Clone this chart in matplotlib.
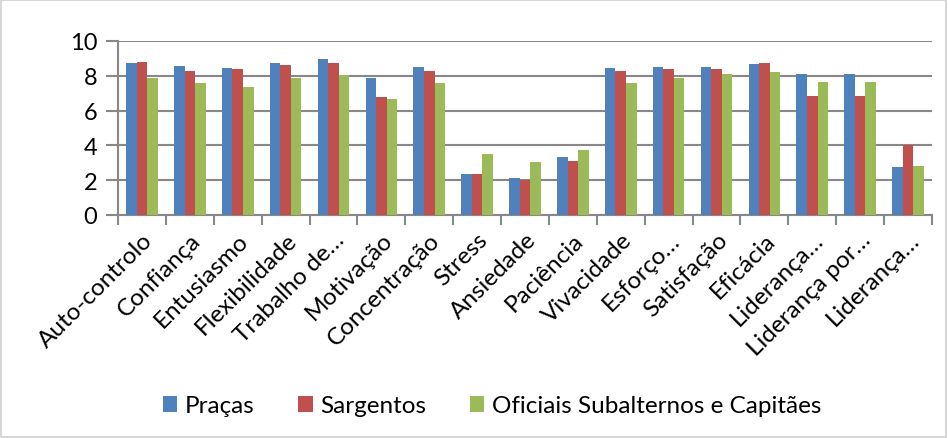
import matplotlib
matplotlib.use("Agg")
import matplotlib.pyplot as plt
import numpy as np
from matplotlib.patches import Rectangle

categories = ["Auto-controlo", "Confiança", "Entusiasmo", "Flexibilidade", "Trabalho de…",
              "Motivação", "Concentração", "Stress", "Ansiedade", "Paciência", "Vivacidade",
              "Esforço…", "Satisfação", "Eficácia", "Liderança…", "Liderança por…", "Liderança…"]
pracas = [8.71, 8.58, 8.42, 8.71, 8.96, 7.88, 8.50, 2.35, 2.15, 3.35, 8.42, 8.50, 8.50, 8.65, 8.12, 8.12, 2.73]
sargentos = [8.81, 8.29, 8.40, 8.63, 8.75, 6.81, 8.29, 2.35, 2.02, 3.12, 8.25, 8.40, 8.37, 8.75, 6.85, 6.85, 4.04]
oficiais = [7.88, 7.60, 7.37, 7.90, 8.06, 6.67, 7.60, 3.48, 3.04, 3.75, 7.56, 7.90, 8.12, 8.21, 7.67, 7.67, 2.79]
series_names = ["Praças", "Sargentos", "Oficiais Subalternos e Capitães"]
colors = ["#4F81BD", "#C0504D", "#9BBB59"]
yticks = [0, 2, 4, 6, 8, 10]

plt.rcParams['font.family'] = ['Lato', 'DejaVu Sans']
fig = plt.figure(figsize=(9.48, 4.39), dpi=100)
fig.patches.append(Rectangle((0.001, 0.002), 0.997, 0.995, transform=fig.transFigure,
                             fill=False, edgecolor="#D0D0D0", linewidth=1.2))
ax = fig.add_axes([118/948, 1-216/439, (932-118)/948, (216-42)/439])

x = np.arange(len(categories))
w = 0.22
for i, (vals, name, c) in enumerate(zip([pracas, sargentos, oficiais], series_names, colors)):
    ax.bar(x + (i-1)*w, vals, width=w, color=c, label=name, zorder=3)

ax.set_xlim(-0.5, len(categories)-0.5)
ax.set_ylim(0, 10)
ax.set_yticks(yticks)
ax.set_yticklabels([str(t) for t in yticks], fontsize=17)
ax.grid(axis='y', color="#888888", linewidth=1.5, zorder=0)
for s in ['top', 'right']:
    ax.spines[s].set_visible(False)
for s in ['left', 'bottom']:
    ax.spines[s].set_color("#888888")
    ax.spines[s].set_linewidth(1.5)
ax.tick_params(axis='y', length=9, width=1.5, color="#888888", pad=6)
ax.set_xticks(np.arange(-0.5, len(categories), 1.0))
ax.set_xticklabels([])
ax.tick_params(axis='x', which='major', length=7, width=1.5, color="#888888")
ax.set_xticks(x, minor=True)
ax.set_xticklabels(categories, minor=True, rotation=45, ha='right', rotation_mode='anchor',
                   fontsize=17.5)
ax.tick_params(axis='x', which='minor', length=0, pad=10)

fig.legend(loc='center', bbox_to_anchor=(492/948, 1-407/439), ncol=3, frameon=False,
           fontsize=17.5, handlelength=0.6, handleheight=0.6, handletextpad=0.3,
           columnspacing=1.8)

fig.savefig("out.png", dpi=100)
